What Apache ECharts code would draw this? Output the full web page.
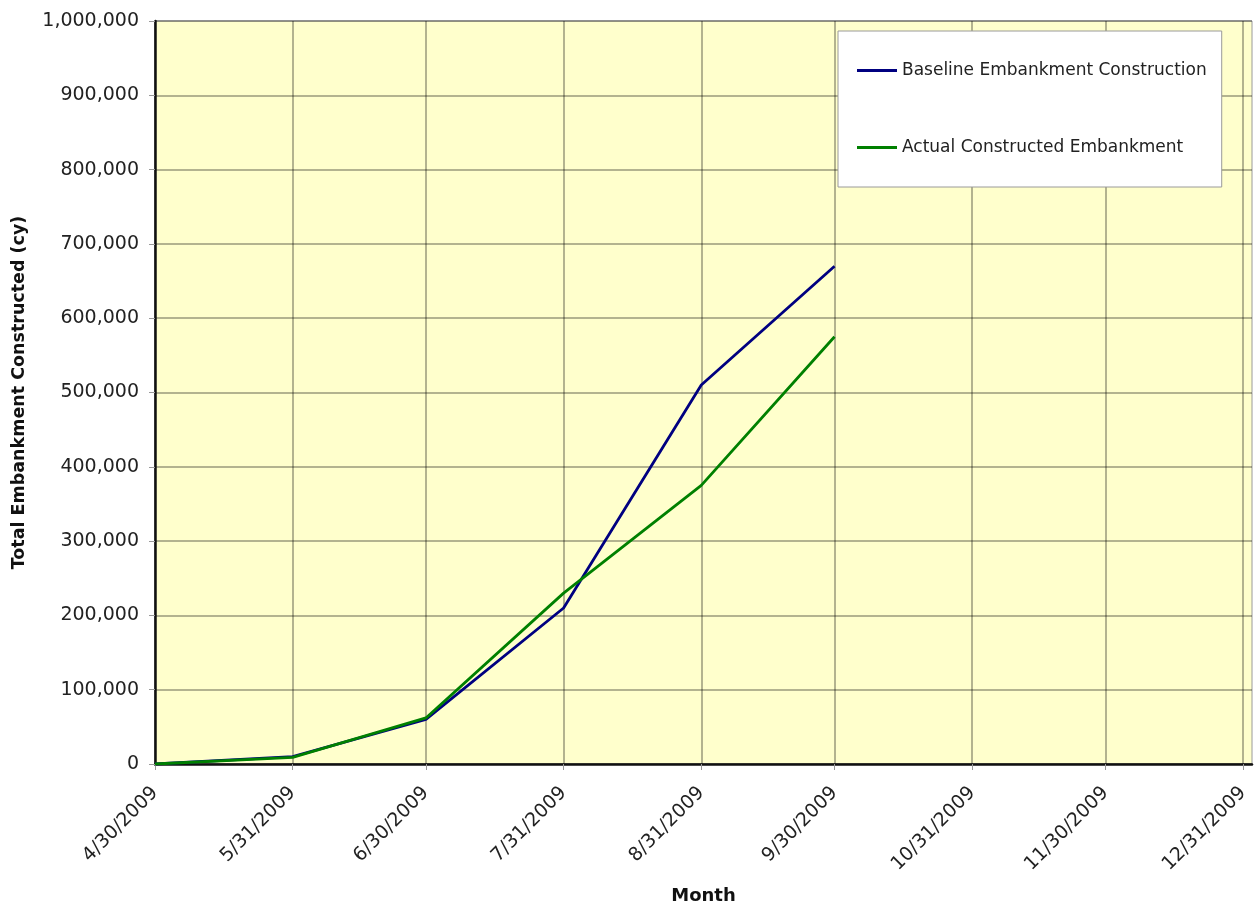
<!DOCTYPE html>
<html>
<head>
<meta charset="utf-8">
<script src="https://cdn.jsdelivr.net/npm/echarts@6/dist/echarts.min.js"></script>
<style>
  html, body { margin: 0; padding: 0; background: #fff; }
  #chart { width: 1258px; height: 909px; }
</style>
</head>
<body>
<div id="chart"></div>
<script>
// month-end dates for the points
var dates = ['2009-04-30', '2009-05-31', '2009-06-30', '2009-07-31', '2009-08-31', '2009-09-30'];
var baseline = [0, 10000, 60000, 210000, 510000, 670000];
var actual = [0, 9000, 62000, 230000, 375000, 575000];
// x tick labels
var tickDates = ['2009-04-30', '2009-05-31', '2009-06-30', '2009-07-31', '2009-08-31',
    '2009-09-30', '2009-10-31', '2009-11-30', '2009-12-31'];
var seriesNames = ['Baseline Embankment Construction', 'Actual Constructed Embankment'];

var DAY = 86400000;
function toTime(s) {
    var p = s.split('-');
    return Date.UTC(+p[0], +p[1] - 1, +p[2]);
}
var start = toTime(tickDates[0]);
// days since first date, so the x axis keeps true calendar spacing
function toDay(s) {
    return Math.round((toTime(s) - start) / DAY);
}

function pairs(vals) {
    var out = [];
    for (var i = 0; i < vals.length; i++) {
        out.push([toDay(dates[i]), vals[i]]);
    }
    return out;
}

var tickDays = tickDates.map(toDay);
var font = 'DejaVu Sans, Verdana, sans-serif';

var myChart = echarts.init(document.getElementById('chart'));
var option = {
    backgroundColor: '#fff',
    animation: false,
    grid: {
        left: 155, right: 6, top: 21, bottom: 145,
        outerBoundsMode: 'none',
        show: true,
        backgroundColor: '#FFFFCC',
        borderColor: '#9a9a9a',
        borderWidth: 1
    },
    legend: {
        orient: 'vertical',
        left: 838, top: 31,
        backgroundColor: '#fff',
        borderColor: '#9a9a9a',
        borderWidth: 1,
        padding: [31, 15, 31, 19],
        itemGap: 60,
        itemWidth: 40,
        itemHeight: 3,
        icon: 'rect',
        textStyle: { fontFamily: font, fontSize: 17, color: '#222' },
        data: seriesNames
    },
    xAxis: {
        type: 'value',
        min: 0,
        max: tickDays[tickDays.length - 1] + 2,
        name: 'Month',
        nameLocation: 'middle',
        nameGap: 123,
        nameTextStyle: { fontFamily: font, fontSize: 18, fontWeight: 'bold', color: '#111' },
        axisLine: { lineStyle: { color: '#111', width: 2.5 } },
        axisTick: { show: true, length: 6, customValues: tickDays, lineStyle: { color: '#999' } },
        axisLabel: {
            customValues: tickDays,
            rotate: 45,
            margin: 26,
            fontFamily: font,
            fontSize: 19,
            color: '#222',
            formatter: function (v) {
                var d = new Date(start + v * DAY);
                return (d.getUTCMonth() + 1) + '/' + d.getUTCDate() + '/' + d.getUTCFullYear();
            }
        },
        splitLine: { show: true, lineStyle: { color: 'rgba(0,0,0,0.4)', width: 1.5 } }
    },
    yAxis: {
        type: 'value',
        min: 0,
        max: 1000000,
        interval: 100000,
        name: 'Total Embankment Constructed (cy)',
        nameLocation: 'middle',
        nameGap: 127,
        nameTextStyle: { fontFamily: font, fontSize: 17.5, fontWeight: 'bold', color: '#111' },
        axisLine: { show: true, lineStyle: { color: '#111', width: 2.5 } },
        axisTick: { show: true, length: 6, lineStyle: { color: '#999' } },
        axisLabel: {
            margin: 16,
            fontFamily: font,
            fontSize: 19,
            color: '#222',
            formatter: function (v) {
                return v.toString().replace(/\B(?=(\d{3})+(?!\d))/g, ',');
            }
        },
        splitLine: { show: true, lineStyle: { color: 'rgba(0,0,0,0.4)', width: 1.5 } }
    },
    series: [
        {
            name: seriesNames[0],
            type: 'line',
            symbol: 'none',
            color: '#000080',
            lineStyle: { width: 2.8, color: '#000080' },
            data: pairs(baseline)
        },
        {
            name: seriesNames[1],
            type: 'line',
            symbol: 'none',
            color: '#008000',
            lineStyle: { width: 2.8, color: '#008000' },
            data: pairs(actual)
        }
    ]
};
myChart.setOption(option);
</script>
</body>
</html>
